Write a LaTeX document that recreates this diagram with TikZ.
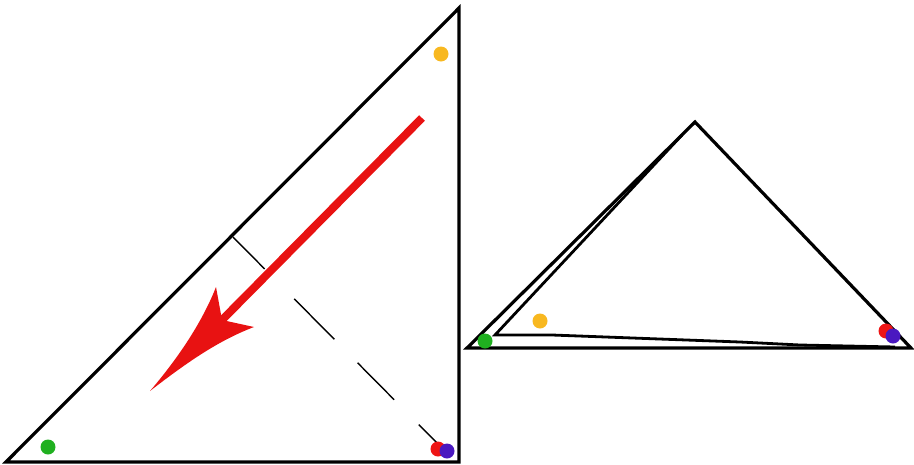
\documentclass[tikz,border=0pt]{standalone}
\usetikzlibrary{calc}
\definecolor{dotyellow}{HTML}{F8B820}
\definecolor{dotgreen}{HTML}{20B020}
\definecolor{dotred}{HTML}{EE1515}
\definecolor{dotblue}{HTML}{4A18C0}
\definecolor{arrowred}{HTML}{E81212}
\tikzset{
  edge/.style={line width=3.2pt, black, line join=miter},
  dashline/.style={line width=1.4pt, black, dash pattern=on 45pt off 42pt on 57pt off 33pt on 52pt off 35pt on 30pt},
  dot/.style={circle, fill=#1, inner sep=0pt, minimum size=15pt}
}
\begin{document}
\begin{tikzpicture}[x=1pt,y=-1pt]
\useasboundingbox (0,0) rectangle (914,464);
% left triangle
\coordinate (A) at (6,462);
\coordinate (B) at (459,8);
\coordinate (C) at (459,462);
\draw[edge] (A) -- (B) -- (C) -- cycle;
% dashed perpendicular
\coordinate (D1) at (233,237);
\coordinate (D2) at (440,446);
\draw[dashline] (D1) -- (D2);
% red arrow
\coordinate (S) at (422,118);
\coordinate (N) at (222,320);
\coordinate (T) at (150,391);
\coordinate (L) at (216,287);
\coordinate (R) at (254,327);
\draw[arrowred, line width=8pt] (S) -- (N);
\fill[arrowred] (T) .. controls (185,350) and (205,315) .. (L) -- (N) -- (R) .. controls (220,340) and (190,360) .. cycle;
% right triangle
\coordinate (P) at (467,348);
\coordinate (Q) at (695,122);
\coordinate (W) at (911,348);
\draw[edge] (P) -- (Q) -- (W) -- cycle;
% inner triangle
\coordinate (I1) at (495,335);
\coordinate (I2) at (682,135);
\coordinate (I3) at (800,345);
\coordinate (I4) at (895,347);
\draw[line width=2.8pt] (I2) -- (I1) -- (552,335) -- (740,342) -- (I3) -- (I4);
% dots
\node[dot=dotyellow] (y1) at (441,54) {};
\node[dot=dotgreen] (g1) at (48,447) {};
\node[dot=dotred] (r1) at (438,449) {};
\node[dot=dotblue] (b1) at (447,451) {};
\node[dot=dotgreen] (g2) at (485,341) {};
\node[dot=dotyellow] (y2) at (540,321) {};
\node[dot=dotred] (r2) at (886,331) {};
\node[dot=dotblue] (b2) at (893,336) {};
\end{tikzpicture}
\end{document}
